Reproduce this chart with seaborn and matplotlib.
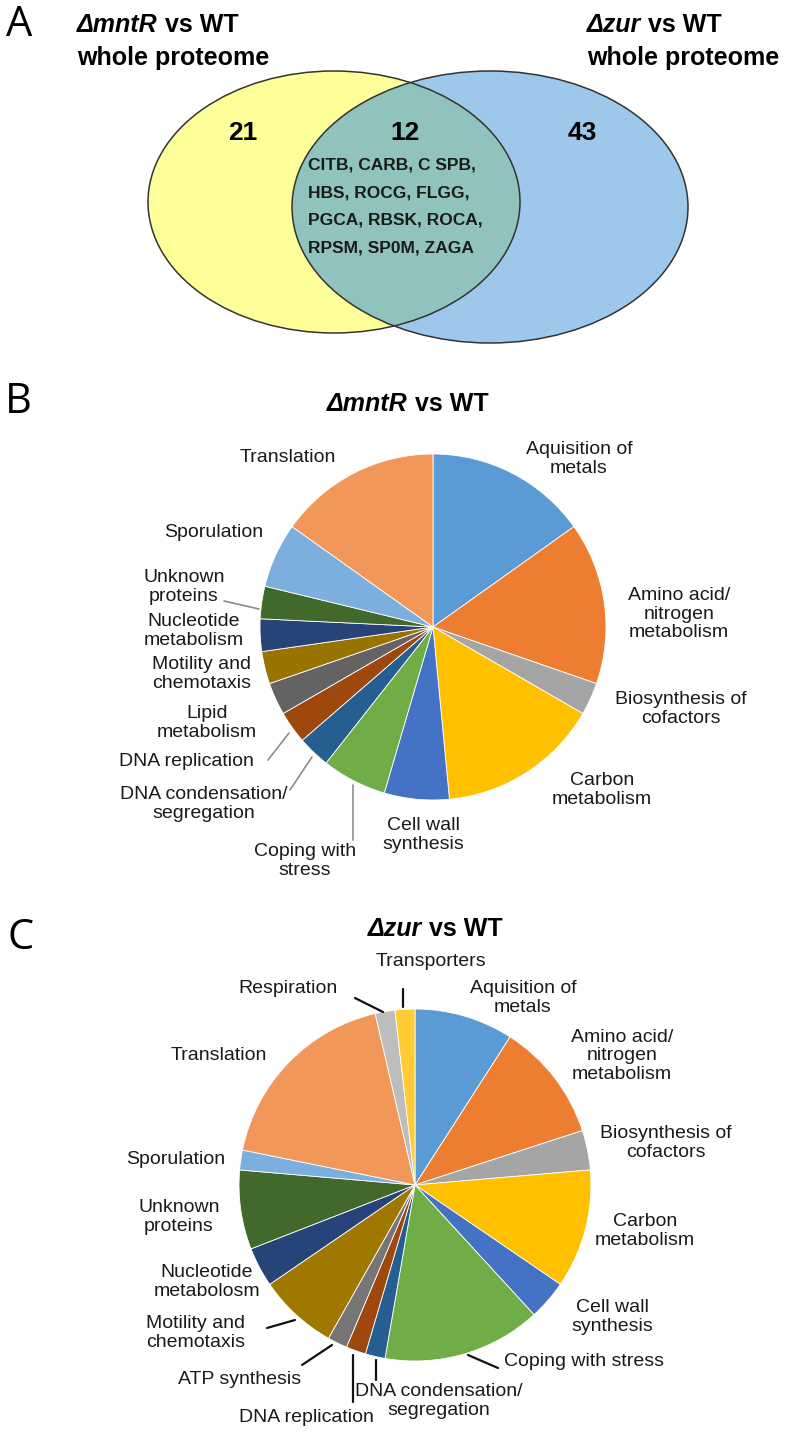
import matplotlib
matplotlib.use("Agg")
import matplotlib.pyplot as plt
from matplotlib.patches import Ellipse
import seaborn as sns

# ── Panel A: Venn counts ────────────────────────────────────────────────
venn_counts = [21, 12, 43]
venn_titles = ["mntR", "zur"]
shared_proteins = [
    "CITB, CARB, C SPB,",
    "HBS, ROCG, FLGG,",
    "PGCA, RBSK, ROCA,",
    "RPSM, SP0M, ZAGA",
]

# ── Panel B: ΔmntR categories (clockwise from 12 o'clock) ──────────────
mntr_labels = [
    "Aquisition of\nmetals", "Amino acid/\nnitrogen\nmetabolism",
    "Biosynthesis of\ncofactors", "Carbon\nmetabolism", "Cell wall\nsynthesis",
    "Coping with\nstress", "DNA condensation/\nsegregation", "DNA replication",
    "Lipid\nmetabolism", "Motility and\nchemotaxis", "Nucleotide\nmetabolism",
    "Unknown\nproteins", "Sporulation", "Translation",
]
mntr_counts = [5, 5, 1, 5, 2, 2, 1, 1, 1, 1, 1, 1, 2, 5]
mntr_colors = [
    "#5B9BD5", "#ED7D31", "#A5A5A5", "#FFC000", "#4472C4", "#70AD47",
    "#255E91", "#9E480E", "#636363", "#997300", "#264478", "#43682B",
    "#7CAFDD", "#F1975A",
]

# ── Panel C: Δzur categories (clockwise from 12 o'clock) ───────────────
zur_labels = [
    "Aquisition of\nmetals", "Amino acid/\nnitrogen\nmetabolism",
    "Biosynthesis of\ncofactors", "Carbon\nmetabolism", "Cell wall\nsynthesis",
    "Coping with stress", "DNA condensation/\nsegregation", "DNA replication",
    "ATP synthesis", "Motility and\nchemotaxis", "Nucleotide\nmetabolosm",
    "Unknown\nproteins", "Sporulation", "Translation", "Respiration",
    "Transporters",
]
zur_counts = [5, 6, 2, 6, 2, 8, 1, 1, 1, 4, 2, 4, 1, 10, 1, 1]
zur_colors = [
    "#5B9BD5", "#ED7D31", "#A5A5A5", "#FFC000", "#4472C4", "#70AD47",
    "#255E91", "#9E480E", "#767676", "#A07800", "#264478", "#43682B",
    "#7CAFDD", "#F1975A", "#BDBDBD", "#FFCD33",
]

# label anchor positions (figure pixels), same order as the labels
mntr_label_pos = [
    (579, 459), (679, 614), (681, 709), (602, 790), (423, 835), (305, 861),
    (204, 804), (186, 761), (207, 723), (202, 674), (194, 631), (184, 587),
    (214, 532), (288, 457),
]
zur_label_pos = [
    (523, 998), (622, 1056), (666, 1143), (645, 1231), (612, 1317),
    (584, 1361), (439, 1401), (306, 1418), (240, 1379), (196, 1333),
    (207, 1282), (179, 1217), (176, 1159), (219, 1056), (288, 988),
    (431, 961),
]
mntr_leaders = [
    ((224, 601), (259, 609)), ((268, 760), (289, 733)),
    ((290, 790), (312, 757)), ((353, 840), (353, 785)),
]
zur_leaders = [
    ((403, 989), (403, 1007)), ((355, 998), (383, 1012)),
    ((267, 1328), (295, 1320)), ((468, 1355), (498, 1368)),
    ((302, 1365), (332, 1345)), ((376, 1360), (376, 1380)),
    ((353, 1355), (353, 1402)),
]

W, H = 800, 1433
sns.set_theme(style="white")
plt.rcParams["font.family"] = ["Liberation Sans", "DejaVu Sans"]
TXT = "#1a1a1a"

fig = plt.figure(figsize=(W / 100, H / 100), dpi=100)


def pie_axes(cx, cy, r, counts, colors):
    ax = fig.add_axes([(cx - r) / W, 1 - (cy + r) / H, 2 * r / W, 2 * r / H])
    ax.pie(counts, colors=sns.color_palette(colors), startangle=90,
           counterclock=False, radius=1,
           wedgeprops=dict(edgecolor="white", linewidth=0.6))
    ax.set_xlim(-1.0, 1.0)
    ax.set_ylim(-1.0, 1.0)
    ax.set_aspect("auto")
    ax.axis("off")
    return ax


pie_axes(433, 627, 173, mntr_counts, mntr_colors)
pie_axes(415, 1185, 176, zur_counts, zur_colors)

# canvas in pixel coordinates for Venn, texts and leader lines
cv = fig.add_axes([0, 0, 1, 1])
cv.set_xlim(0, W)
cv.set_ylim(H, 0)
cv.axis("off")
cv.patch.set_visible(False)

# ── Venn ───────────────────────────────────────────────────────────────
yellow = Ellipse((334, 202), 372, 262, facecolor="#FFFF99", edgecolor="none")
blue = Ellipse((490, 207), 396, 272, facecolor="#9DC8EC", edgecolor="none")
cv.add_patch(yellow)
cv.add_patch(blue)
overlap = Ellipse((334, 202), 372, 262, facecolor="#90C3BE", edgecolor="none")
cv.add_patch(overlap)
overlap.set_clip_path(blue)
for e in [(334, 202, 372, 262), (490, 207, 396, 272)]:
    cv.add_patch(Ellipse(e[:2], e[2], e[3], facecolor="none",
                         edgecolor="#333333", linewidth=1.1))

for x, n in zip([243, 405, 582], venn_counts):
    cv.text(x, 133, str(n), fontsize=19, fontweight="bold", color="black",
            ha="center", va="center")
for y, line in zip([165, 193, 220, 248], shared_proteins):
    cv.text(308, y, line, fontsize=12.5, fontweight="bold", color="#1a1a1a",
            ha="left", va="center")


def rich_title(x, y, gene, size=18):
    t = cv.text(x, y, "\u0394" + gene, fontsize=size, fontweight="bold",
                fontstyle="italic", color="black", ha="left", va="bottom")
    cv.annotate(" vs WT", xy=(1, 0), xycoords=t, fontsize=size,
                fontweight="bold", color="black", ha="left", va="bottom")


rich_title(77, 37, venn_titles[0])
cv.text(77, 58, "whole proteome", fontsize=18, fontweight="bold",
        color="black", ha="left", va="center")
rich_title(587, 37, venn_titles[1])
cv.text(587, 58, "whole proteome", fontsize=18, fontweight="bold",
        color="black", ha="left", va="center")

# ── Panel letters and pie titles ─────────────────────────────────────────
for s, (x, y) in zip("ABC", [(19, 25), (18, 402), (21, 938)]):
    cv.text(x, y, s, fontsize=30, fontweight="normal", color="black",
            ha="center", va="center", family=["Open Sans", "DejaVu Sans"])
rich_title(327, 416, venn_titles[0])
rich_title(368, 941, venn_titles[1])

# ── Pie labels ───────────────────────────────────────────────────────────
for labels, pos in [(mntr_labels, mntr_label_pos), (zur_labels, zur_label_pos)]:
    for lab, (x, y) in zip(labels, pos):
        cv.text(x, y, lab, fontsize=14, color=TXT, ha="center", va="center",
                linespacing=1.12)

for (p0, p1) in mntr_leaders:
    cv.plot([p0[0], p1[0]], [p0[1], p1[1]], color="#8c8c8c", lw=1.2)
for (p0, p1) in zur_leaders:
    cv.plot([p0[0], p1[0]], [p0[1], p1[1]], color="#111111", lw=1.6)

fig.savefig("out.png", dpi=100)
